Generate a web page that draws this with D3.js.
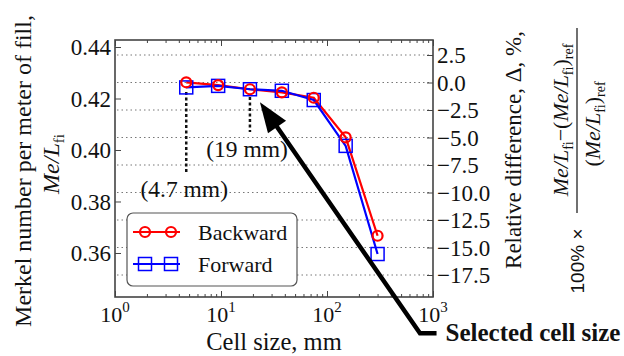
<!DOCTYPE html>
<html>
<head>
<meta charset="utf-8">
<script src="https://cdn.jsdelivr.net/npm/d3@7"></script>
<style>
  body { margin: 0; background: #fff; }
  text { font-family: "Liberation Serif", "Times New Roman", serif; fill: #111; }
</style>
</head>
<body>
<div id="chart"></div>
<script>
// Data
const cellSize = [4.7, 9.4, 18.75, 37.5, 75, 150, 300]            // mm
const backward = [0.4263, 0.4252, 0.4236, 0.4224, 0.4203, 0.4049, 0.3667]
const forward  = [0.4243, 0.4249, 0.4236, 0.4230, 0.4194, 0.4016, 0.3596]
const leftTicks  = [0.36, 0.38, 0.40, 0.42, 0.44]
const rightTicks = [2.5, 0, -2.5, -5, -7.5, -10, -12.5, -15, -17.5]
const xTicks = [1, 10, 100, 1000]
const notes = [{x: 4.7, y0: 0.4225, y1: 0.3915, label: "(4.7 mm)", lx: 4.5, ly: 0.3816},
               {x: 18.75, y0: 0.4206, y1: 0.4070, label: "(19 mm)", lx: 17.6, ly: 0.3974}]

const series = [
  {name: "Backward", values: backward, color: "#f00", marker: "circle"},
  {name: "Forward", values: forward, color: "#00f", marker: "square"}
]

async function draw() {
  const dims = {width: 624, height: 356, left: 115, right: 433, top: 40, bottom: 297}

  const svg = d3.select('#chart').append('svg')
    .attr('width', dims.width)
    .attr('height', dims.height)

  // Scales
  const xScale = d3.scaleLog().domain([1, 1000]).range([dims.left, dims.right])
  const yScale = d3.scaleLinear().domain([0.34291, 0.44272]).range([dims.bottom, dims.top])
  const yRight = d3.scaleLinear().domain([-19.5, 3.864]).range([dims.bottom, dims.top])

  // grid (from right axis)
  svg.append('g').selectAll('line')
    .data(rightTicks)
    .join('line')
    .attr('x1', dims.left + 2).attr('x2', dims.right - 2)
    .attr('y1', d => yRight(d)).attr('y2', d => yRight(d))
    .attr('stroke', '#777')
    .attr('stroke-width', 1)
    .attr('stroke-dasharray', '1.5,3')

  // Axes, ticks pointing inside
  const tickFmt = () => ''
  const xMinor = []
  for (let e = 0; e < 3; e++) for (let m = 2; m < 10; m++) xMinor.push(m * Math.pow(10, e))

  svg.append('g').attr('transform', `translate(0,${dims.bottom})`)
    .call(d3.axisTop(xScale).tickValues(xTicks).tickFormat(tickFmt).tickSize(6))
  svg.append('g').attr('transform', `translate(0,${dims.bottom})`)
    .call(d3.axisTop(xScale).tickValues(xMinor).tickFormat(tickFmt).tickSize(3))
  svg.append('g').attr('transform', `translate(0,${dims.top})`)
    .call(d3.axisBottom(xScale).tickValues(xTicks).tickFormat(tickFmt).tickSize(6))
  svg.append('g').attr('transform', `translate(0,${dims.top})`)
    .call(d3.axisBottom(xScale).tickValues(xMinor).tickFormat(tickFmt).tickSize(3))
  svg.append('g').attr('transform', `translate(${dims.left},0)`)
    .call(d3.axisRight(yScale).tickValues(leftTicks).tickFormat(tickFmt).tickSize(6))
  svg.append('g').attr('transform', `translate(${dims.right},0)`)
    .call(d3.axisLeft(yRight).tickValues(rightTicks).tickFormat(tickFmt).tickSize(6))
  svg.selectAll('.domain').remove()
  svg.selectAll('.tick line').attr('stroke', '#444').attr('stroke-width', 1)

  // frame
  svg.append('rect')
    .attr('x', dims.left).attr('y', dims.top)
    .attr('width', dims.right - dims.left).attr('height', dims.bottom - dims.top)
    .attr('fill', 'none').attr('stroke', '#444').attr('stroke-width', 1.6)

  // tick labels
  svg.append('g').selectAll('text').data(leftTicks).join('text')
    .attr('x', dims.left - 4).attr('y', d => yScale(d)).attr('dy', '0.35em')
    .attr('text-anchor', 'end').style('font-size', '23px')
    .text(d => d3.format('.2f')(d))
  svg.append('g').selectAll('text').data(rightTicks).join('text')
    .attr('x', dims.right + 4).attr('y', d => yRight(d)).attr('dy', '0.35em')
    .style('font-size', '23px')
    .text(d => d3.format('.1f')(d).replace('-', '\u2212'))
  const xl = svg.append('g').selectAll('text').data(xTicks).join('text')
    .attr('x', d => xScale(d)).attr('y', dims.bottom + 25)
    .attr('text-anchor', 'middle').style('font-size', '22px')
  xl.append('tspan').text('10')
  xl.append('tspan').attr('dy', -10).style('font-size', '15px').text(d => Math.round(Math.log10(d)))

  // axis titles
  svg.append('text')
    .attr('x', 274).attr('y', 350).attr('text-anchor', 'middle')
    .style('font-size', '24.5px').text('Cell size, mm')

  svg.append('text')
    .attr('transform', 'translate(31,171) rotate(-90)')
    .attr('text-anchor', 'middle').style('font-size', '24px')
    .text('Merkel number per meter of fill,')
  const ml = svg.append('text')
    .attr('transform', 'translate(59,164) rotate(-90)')
    .attr('text-anchor', 'middle').style('font-size', '24px')
  ml.append('tspan').style('font-style', 'italic').text('Me/L')
  ml.append('tspan').attr('dy', 5).style('font-size', '15px').text('fi')

  svg.append('text')
    .attr('transform', 'translate(521,150) rotate(-90)')
    .attr('text-anchor', 'middle').style('font-size', '23px')
    .text('Relative difference, \u0394, %,')

  // formula on the right
  const num = svg.append('text')
    .attr('transform', 'translate(568,120) rotate(-90)')
    .attr('text-anchor', 'middle').style('font-size', '22px')
  num.append('tspan').style('font-style', 'italic').text('Me/L')
  num.append('tspan').attr('dy', 5).style('font-size', '14px').text('fi')
  num.append('tspan').attr('dy', -5).text('\u2212(')
  num.append('tspan').style('font-style', 'italic').text('Me/L')
  num.append('tspan').attr('dy', 5).style('font-size', '14px').text('fi')
  num.append('tspan').attr('dy', -5).text(')')
  num.append('tspan').attr('dy', 5).style('font-size', '14px').text('ref')

  svg.append('line')
    .attr('x1', 577).attr('x2', 577).attr('y1', 28).attr('y2', 213)
    .attr('stroke', '#111').attr('stroke-width', 1.2)

  const den = svg.append('text')
    .attr('transform', 'translate(600,124) rotate(-90)')
    .attr('text-anchor', 'middle').style('font-size', '22px')
  den.append('tspan').text('(')
  den.append('tspan').style('font-style', 'italic').text('Me/L')
  den.append('tspan').attr('dy', 5).style('font-size', '14px').text('fi')
  den.append('tspan').attr('dy', -5).text(')')
  den.append('tspan').attr('dy', 5).style('font-size', '14px').text('ref')

  svg.append('text')
    .attr('transform', 'translate(584,261) rotate(-90)')
    .attr('text-anchor', 'middle').style('font-family', '"Liberation Sans", sans-serif')
    .style('font-size', '19px').text('100% \u00d7')

  // annotations for cell sizes
  svg.append('g').selectAll('line').data(notes).join('line')
    .attr('x1', d => xScale(d.x)).attr('x2', d => xScale(d.x))
    .attr('y1', d => yScale(d.y0)).attr('y2', d => yScale(d.y1))
    .attr('stroke', '#111').attr('stroke-width', 2.5).attr('stroke-dasharray', '3,2.5')
  svg.append('g').selectAll('text').data(notes).join('text')
    .attr('x', d => xScale(d.lx)).attr('y', d => yScale(d.ly))
    .attr('text-anchor', 'middle').style('font-size', '23.5px')
    .text(d => d.label)

  // lines and markers
  const line = d3.line()
    .x((d, i) => xScale(cellSize[i]))
    .y(d => yScale(d))

  series.forEach(s => {
    svg.append('path')
      .datum(s.values)
      .attr('d', line)
      .attr('fill', 'none')
      .attr('stroke', s.color)
      .attr('stroke-width', 2.2)
  })
  series.slice().reverse().forEach(s => {
    const g = svg.append('g')
    if (s.marker === 'circle') {
      g.selectAll('circle').data(s.values).join('circle')
        .attr('cx', (d, i) => xScale(cellSize[i])).attr('cy', d => yScale(d))
        .attr('r', 5).attr('fill', 'none').attr('stroke', s.color).attr('stroke-width', 2.2)
    } else {
      g.selectAll('rect').data(s.values).join('rect')
        .attr('x', (d, i) => xScale(cellSize[i]) - 6.5).attr('y', d => yScale(d) - 6.5)
        .attr('width', 13).attr('height', 13)
        .attr('fill', 'none').attr('stroke', s.color).attr('stroke-width', 1.5)
    }
  })

  // arrow to selected cell size
  const tip = [xScale(23.3), yRight(-1.8)]
  const corner = [xScale(754), yRight(-22.8)]
  const tail = [xScale(1080), yRight(-22.8)]
  const dx = tip[0] - corner[0], dy = tip[1] - corner[1]
  const len = Math.hypot(dx, dy)
  const ux = dx / len, uy = dy / len
  const headLen = 30, headW = 11
  const base = [tip[0] - ux * headLen, tip[1] - uy * headLen]
  svg.append('path')
    .attr('d', d3.line()([tail, corner, [base[0] + ux * 2, base[1] + uy * 2]]))
    .attr('fill', 'none').attr('stroke', '#000').attr('stroke-width', 4.5)
  svg.append('path')
    .attr('d', d3.line()([tip, [base[0] - uy * headW, base[1] + ux * headW],
                              [base[0] + uy * headW, base[1] - ux * headW]]) + 'Z')
    .attr('fill', '#000')
  svg.append('text')
    .attr('x', tail[0] + 9).attr('y', tail[1] + 8)
    .style('font-size', '25px').style('font-weight', 'bold')
    .text('Selected cell size')

  // legend
  const lg = svg.append('g').attr('transform', 'translate(127,213)')
  lg.append('rect')
    .attr('width', 170).attr('height', 73).attr('rx', 6)
    .attr('fill', '#fff').attr('stroke', '#555').attr('stroke-width', 1.2)
  series.forEach((s, i) => {
    const y = 19 + i * 32
    lg.append('line').attr('x1', 6).attr('x2', 53).attr('y1', y).attr('y2', y)
      .attr('stroke', s.color).attr('stroke-width', 2.2)
    ;[18, 44].forEach(x => {
      if (s.marker === 'circle') {
        lg.append('circle').attr('cx', x).attr('cy', y).attr('r', 5)
          .attr('fill', 'none').attr('stroke', s.color).attr('stroke-width', 2.2)
      } else {
        lg.append('rect').attr('x', x - 6.5).attr('y', y - 6.5).attr('width', 13).attr('height', 13)
          .attr('fill', 'none').attr('stroke', s.color).attr('stroke-width', 1.5)
      }
    })
    lg.append('text').attr('x', 71).attr('y', y).attr('dy', '0.35em')
      .style('font-size', '22px').text(s.name)
  })
}

draw().catch(e => console.log("Error: ", e))
</script>
</body>
</html>
